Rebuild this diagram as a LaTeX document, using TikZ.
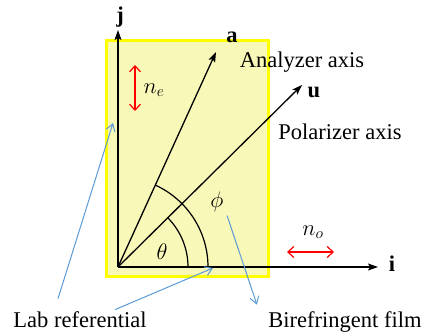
\RequirePackage{fix-cm}
\documentclass[tikz,border=0pt]{standalone}
\usepackage{fontspec}
\setmainfont{Liberation Serif}
\usetikzlibrary{arrows.meta,positioning}
\definecolor{filmyellow}{HTML}{F8F8B8}
\definecolor{filmedge}{HTML}{FFFF00}
\definecolor{calloutblue}{HTML}{5B9BD5}
\definecolor{indexred}{HTML}{FF0000}

\begin{document}
\begin{tikzpicture}[x=1pt,y=-1pt,>={Stealth[length=10pt,width=7pt,inset=2pt]},
		every node/.style={font=\fontsize{22.5}{27}\selectfont},
		axis/.style={->,line width=1.3pt,black},
		vec/.style={font=\fontsize{22.5}{27}\selectfont\bfseries},
		callout/.style={-{Straight Barb[length=7pt,width=9pt]},line width=1pt,calloutblue},
		index/.style={{Straight Barb[length=6pt,width=11pt]}-{Straight Barb[length=6pt,width=11pt]},
			line width=1.2pt,indexred}]
	\useasboundingbox (0,0) rectangle (428,336);
	% film
	\draw[line width=3pt,filmedge,fill=filmyellow] (106,41) rectangle (268,277);
	% axes and vectors
	\coordinate (O) at (118,267);
	\coordinate (jend) at (118,30);
	\coordinate (iend) at (378,267);
	\coordinate (aend) at (216,52);
	\coordinate (uend) at (302,85);
	\foreach \e in {jend,iend,aend,uend}
	{\draw[axis] (O)--(\e);}
	\draw[line width=1.2pt] (O) ++(70,0) arc[start angle=0,end angle=-44.7,radius=70];
	\draw[line width=1.2pt] (O) ++(90,0) arc[start angle=0,end angle=-65.5,radius=90];
	\node[vec] (jlab) at (120,17) {j};
	\node[vec] (ilab) at (392,264) {i};
	\node[vec] (alab) at (232,37) {a};
	\node[vec] (ulab) at (314,92) {u};
	\node[anchor=base] (anlz) at (302,68) {Analyzer axis};
	\node[anchor=base] (polz) at (340,140) {Polarizer axis};
	\node (th) at (162,252) {$\theta$};
	\node (ph) at (217,202) {$\phi$};
	% refractive indices
	\node (ne) at (154,90) {$n_e$};
	\node (no) at (313,232) {$n_o$};
	\coordinate (netop) at (135,65);
	\coordinate (nebot) at (135,111);
	\coordinate (noleft) at (287,252);
	\coordinate (noright) at (334,252);
	\draw[index] (netop)--(nebot);
	\draw[index] (noleft)--(noright);
	% captions
	\node[anchor=base] (lab) at (80,327) {Lab referential};
	\node[anchor=base] (bire) at (345,327) {Birefringent film};
	\coordinate (jpt) at (113,123);
	\coordinate (ipt) at (213,268);
	\draw[callout] ([xshift=-22pt,yshift=9pt]lab.north)--(jpt);
	\draw[callout] ([xshift=35pt,yshift=-2pt]lab.north)--(ipt);
	\draw[callout] (ph.south east)--([xshift=-8pt,yshift=3pt]bire.north west);
\end{tikzpicture}
\end{document}
